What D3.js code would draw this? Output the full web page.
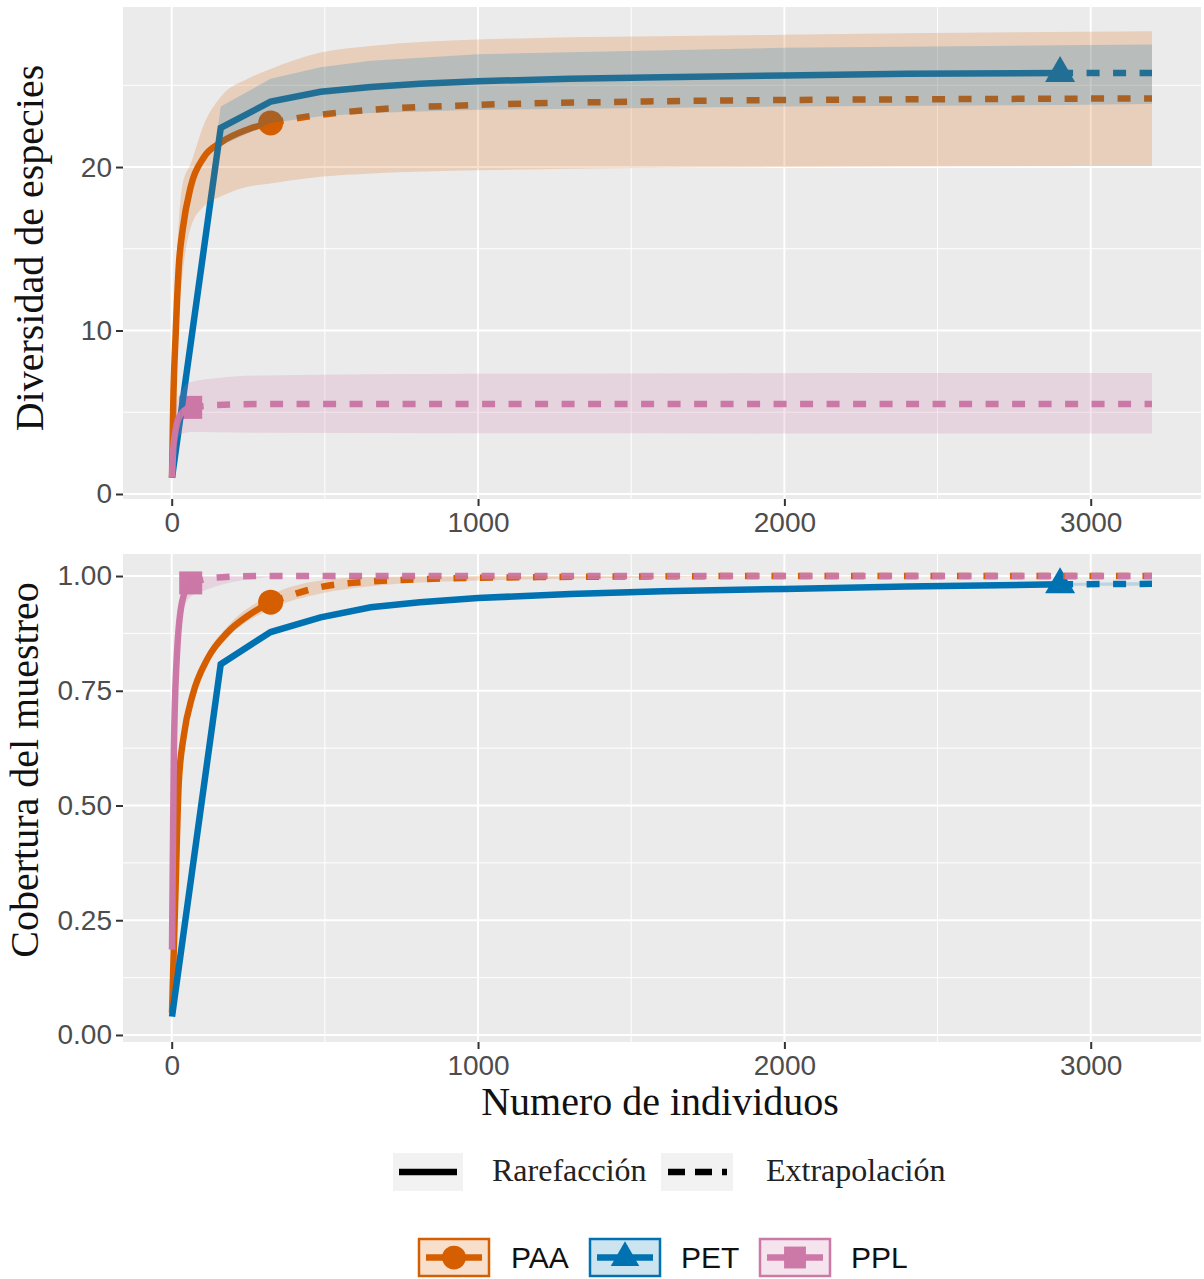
<!DOCTYPE html>
<meta charset="utf-8">
<script src="https://cdnjs.cloudflare.com/ajax/libs/d3/7.8.5/d3.min.js"></script>
<style>
  body { margin: 0; background: #fff; }
</style>
<div id="my_dataviz"></div>
<script>

// assemblages
const groups = ["PAA", "PET", "PPL"];
const colors = ["#D55E00", "#0072B2", "#CC79A7"];
const shapes = ["circle", "triangle", "square"];
const xTicks = [0, 1000, 2000, 3000];

// --- Diversidad de especies ---
// PAA
const paaRareN = [1, 5, 13, 23, 36, 62, 105, 160, 248, 323];
const paaRareS = [1, 5.5, 9.8, 13.9, 16.2, 18.8, 20.6, 21.5, 22.3, 22.7];
const paaExtN = [323, 486, 650, 1000, 1500, 2000, 2500, 3200];
const paaExtS = [22.7, 23.2, 23.5, 23.8, 24.0, 24.1, 24.15, 24.2];
const paaCiN = [1, 13, 36, 62, 105, 160, 248, 323, 486, 650, 1000, 2000, 3200];
const paaLoS = [1, 8, 13.5, 16.3, 17.6, 18.2, 18.8, 19.0, 19.4, 19.6, 19.8, 20.0, 20.06];
const paaHiS = [1, 12, 19, 20.2, 22.6, 24.3, 25.4, 26.0, 27.0, 27.4, 27.8, 28.1, 28.3];
// PET
const petRareN = [1, 160, 323, 486, 650, 810, 1000, 1300, 1600, 2000, 2400, 2900];
const petRareS = [1, 22.4, 24.0, 24.6, 24.9, 25.1, 25.25, 25.4, 25.5, 25.6, 25.7, 25.75];
const petExtN = [2900, 3200];
const petExtS = [25.75, 25.75];
const petCiN = [1, 160, 323, 486, 650, 1000, 2000, 2900, 3200];
const petLoS = [1, 21.3, 22.7, 23.1, 23.3, 23.5, 23.7, 23.8, 23.85];
const petHiS = [1, 23.7, 25.4, 26.1, 26.5, 26.9, 27.3, 27.45, 27.5];
// PPL
const pplRareN = [1, 5, 10, 20, 35, 62];
const pplRareS = [1, 2.7, 3.6, 4.5, 5.0, 5.3];
const pplExtN = [62, 150, 300, 1000, 3200];
const pplExtS = [5.3, 5.45, 5.5, 5.5, 5.5];
const pplCiN = [1, 10, 35, 62, 150, 300, 1000, 3200];
const pplLoS = [1, 2.8, 3.7, 3.8, 3.78, 3.75, 3.72, 3.7];
const pplHiS = [1, 5.0, 6.4, 6.85, 7.1, 7.25, 7.35, 7.4];

// --- Cobertura del muestreo ---
// PAA
const paaCovRareN = [1, 7, 13, 23, 39, 68, 117, 182, 248, 323];
const paaCovRare = [0.048, 0.19, 0.33, 0.55, 0.65, 0.74, 0.82, 0.877, 0.913, 0.943];
const paaCovExtN = [323, 486, 650, 1000, 1500, 2000, 3200];
const paaCovExt = [0.943, 0.976, 0.988, 0.996, 0.999, 1.0, 1.0];
const paaCovCiN = [1, 13, 39, 117, 182, 323, 486, 650, 1000, 2000, 3200];
const paaCovLo = [0.048, 0.32, 0.64, 0.81, 0.865, 0.928, 0.962, 0.978, 0.99, 0.999, 1.0];
const paaCovHi = [0.048, 0.34, 0.66, 0.83, 0.89, 0.958, 0.99, 0.998, 1.0, 1.0, 1.0];
// PET
const petCovRareN = [1, 160, 323, 486, 650, 810, 1000, 1300, 1600, 2000, 2400, 2900];
const petCovRare = [0.04, 0.808, 0.878, 0.91, 0.932, 0.943, 0.952, 0.961, 0.967, 0.972, 0.977, 0.982];
const petCovExtN = [2900, 3200];
const petCovExt = [0.982, 0.983];
const petCovCiN = [1, 160, 323, 486, 650, 1000, 2000, 2900, 3200];
const petCovLo = [0.04, 0.80, 0.872, 0.905, 0.928, 0.948, 0.969, 0.979, 0.979];
const petCovHi = [0.04, 0.816, 0.884, 0.915, 0.936, 0.956, 0.975, 0.985, 0.987];
// PPL
const pplCovRareN = [1, 7, 18, 36, 62];
const pplCovRare = [0.186, 0.62, 0.84, 0.95, 0.985];
const pplCovExtN = [62, 150, 300, 1000, 3200];
const pplCovExt = [0.985, 0.997, 1.0, 1.0, 1.0];
const pplCovCiN = [1, 7, 18, 36, 62, 105, 225, 400, 3200];
const pplCovLo = [0.186, 0.58, 0.8, 0.92, 0.955, 0.968, 0.99, 1.0, 1.0];
const pplCovHi = [0.186, 0.66, 0.88, 0.98, 1.0, 1.0, 1.0, 1.0, 1.0];

// build series for each panel
function zip(a, b) { return a.map((v, i) => [v, b[i]]); }
function zip3(a, b, c) { return a.map((v, i) => [v, b[i], c[i]]); }

const divSeries = [
  { rare: zip(paaRareN, paaRareS), ext: zip(paaExtN, paaExtS), ci: zip3(paaCiN, paaLoS, paaHiS), curve: d3.curveMonotoneX },
  { rare: zip(petRareN, petRareS), ext: zip(petExtN, petExtS), ci: zip3(petCiN, petLoS, petHiS), curve: d3.curveLinear },
  { rare: zip(pplRareN, pplRareS), ext: zip(pplExtN, pplExtS), ci: zip3(pplCiN, pplLoS, pplHiS), curve: d3.curveMonotoneX }
];
const covSeries = [
  { rare: zip(paaCovRareN, paaCovRare), ext: zip(paaCovExtN, paaCovExt), ci: zip3(paaCovCiN, paaCovLo, paaCovHi), curve: d3.curveMonotoneX },
  { rare: zip(petCovRareN, petCovRare), ext: zip(petCovExtN, petCovExt), ci: zip3(petCovCiN, petCovLo, petCovHi), curve: d3.curveLinear },
  { rare: zip(pplCovRareN, pplCovRare), ext: zip(pplCovExtN, pplCovExt), ci: zip3(pplCovCiN, pplCovLo, pplCovHi), curve: d3.curveMonotoneX }
];

const width = 1204, height = 1279;
const left = 123, right = 1201;
const lw = 6.5, dash = "13,13.5";

const svg = d3.select("#my_dataviz")
  .append("svg")
  .attr("width", width)
  .attr("height", height);

const x = d3.scaleLinear().domain([-159, 3360]).range([left, right]);

function marker(g, shape, cx, cy, col, size) {
  const s = size || 1;
  if (shape == "circle") {
    g.append("circle").attr("cx", cx).attr("cy", cy).attr("r", 12.5 * s).attr("fill", col);
  } else if (shape == "triangle") {
    g.append("path")
      .attr("d", "M0," + (-17 * s) + "L" + (15 * s) + "," + (9 * s) + "L" + (-15 * s) + "," + (9 * s) + "Z")
      .attr("transform", "translate(" + cx + "," + cy + ")")
      .attr("fill", col);
  } else {
    g.append("rect").attr("x", cx - 11.5 * s).attr("y", cy - 11.5 * s)
      .attr("width", 23 * s).attr("height", 23 * s).attr("fill", col);
  }
}

function drawPanel(y, top, bottom, yTicks, yMinor, fmt, series, clipId) {
  const g = svg.append("g");
  g.append("rect")
    .attr("x", left).attr("y", top)
    .attr("width", right - left).attr("height", bottom - top)
    .attr("fill", "#EBEBEB");

  g.append("clipPath").attr("id", clipId)
    .append("rect")
    .attr("x", left).attr("y", top)
    .attr("width", right - left).attr("height", bottom - top);

  // grid
  const xMinor = [500, 1500, 2500];
  g.selectAll(".hminor").data(yMinor).join("line")
    .attr("x1", left).attr("x2", right)
    .attr("y1", d => y(d)).attr("y2", d => y(d))
    .attr("stroke", "#fff").attr("stroke-width", 1);
  g.selectAll(".vminor").data(xMinor).join("line")
    .attr("y1", top).attr("y2", bottom)
    .attr("x1", d => x(d)).attr("x2", d => x(d))
    .attr("stroke", "#fff").attr("stroke-width", 1);
  g.selectAll(".hmajor").data(yTicks).join("line")
    .attr("x1", left).attr("x2", right)
    .attr("y1", d => y(d)).attr("y2", d => y(d))
    .attr("stroke", "#fff").attr("stroke-width", 2);
  g.selectAll(".vmajor").data(xTicks).join("line")
    .attr("y1", top).attr("y2", bottom)
    .attr("x1", d => x(d)).attr("x2", d => x(d))
    .attr("stroke", "#fff").attr("stroke-width", 2);

  const plot = g.append("g").attr("clip-path", "url(#" + clipId + ")");

  // points first, then lines, then ribbons (same order as ggiNEXT)
  series.forEach((s, i) => {
    const ref = s.rare[s.rare.length - 1];
    marker(plot, shapes[i], x(ref[0]), y(ref[1]), colors[i]);
  });
  series.forEach((s, i) => {
    const line = d3.line().x(d => x(d[0])).y(d => y(d[1])).curve(s.curve);
    plot.append("path").datum(s.rare)
      .attr("d", line).attr("fill", "none")
      .attr("stroke", colors[i]).attr("stroke-width", lw);
    plot.append("path").datum(s.ext)
      .attr("d", line).attr("fill", "none")
      .attr("stroke", colors[i]).attr("stroke-width", lw)
      .attr("stroke-dasharray", dash);
  });
  series.forEach((s, i) => {
    const area = d3.area().x(d => x(d[0])).y0(d => y(d[1])).y1(d => y(d[2])).curve(s.curve);
    plot.append("path").datum(s.ci)
      .attr("d", area)
      .attr("fill", colors[i]).attr("fill-opacity", 0.2);
  });

  // axes
  const ya = g.append("g")
    .attr("transform", "translate(" + left + ",0)")
    .call(d3.axisLeft(y).tickValues(yTicks).tickFormat(fmt).tickSize(7).tickPadding(4));
  const xa = g.append("g")
    .attr("transform", "translate(0," + bottom + ")")
    .call(d3.axisBottom(x).tickValues(xTicks).tickFormat(d3.format("d")).tickSize(7).tickPadding(6));
  [ya, xa].forEach(a => {
    a.select(".domain").remove();
    a.selectAll(".tick line").attr("stroke", "#333").attr("stroke-width", 2);
    a.selectAll(".tick text")
      .attr("fill", "#4D4D4D")
      .style("font-family", "'Liberation Sans', Arial, sans-serif")
      .style("font-size", "28px");
  });
}

const yTop = d3.scaleLinear().domain([-0.306, 29.79]).range([499, 7]);
const yBot = d3.scaleLinear().domain([-0.0153, 1.048]).range([1042, 554]);

drawPanel(yTop, 7, 499, [0, 10, 20], [5, 15, 25], d3.format("d"), divSeries, "clipTop");
drawPanel(yBot, 554, 1042, [0, 0.25, 0.5, 0.75, 1], [0.125, 0.375, 0.625, 0.875], d3.format(".2f"), covSeries, "clipBot");

// axis titles
const serif = "'Liberation Serif', 'Times New Roman', serif";
svg.append("text")
  .attr("transform", "translate(43,248) rotate(-90)")
  .attr("text-anchor", "middle")
  .style("font-family", serif).style("font-size", "40px").attr("fill", "#111")
  .text("Diversidad de especies");
svg.append("text")
  .attr("transform", "translate(38,770) rotate(-90)")
  .attr("text-anchor", "middle")
  .style("font-family", serif).style("font-size", "40px").attr("fill", "#111")
  .text("Cobertura del muestreo");
svg.append("text")
  .attr("x", 660).attr("y", 1115)
  .attr("text-anchor", "middle")
  .style("font-family", serif).style("font-size", "40px").attr("fill", "#111")
  .text("Numero de individuos");

// legend: line type
const lt = svg.append("g");
lt.append("rect").attr("x", 393).attr("y", 1153).attr("width", 70).attr("height", 38).attr("fill", "#F2F2F2");
lt.append("line").attr("x1", 399).attr("x2", 457).attr("y1", 1172).attr("y2", 1172)
  .attr("stroke", "#000").attr("stroke-width", lw);
lt.append("text").attr("x", 492).attr("y", 1181)
  .style("font-family", serif).style("font-size", "32px").attr("fill", "#222")
  .text("Rarefacción");
lt.append("rect").attr("x", 661).attr("y", 1153).attr("width", 72).attr("height", 38).attr("fill", "#F2F2F2");
lt.append("line").attr("x1", 668).attr("x2", 727).attr("y1", 1172).attr("y2", 1172)
  .attr("stroke", "#000").attr("stroke-width", lw).attr("stroke-dasharray", "17,10");
lt.append("text").attr("x", 766).attr("y", 1181)
  .style("font-family", serif).style("font-size", "32px").attr("fill", "#222")
  .text("Extrapolación");

// legend: assemblages
const keyX = [419, 590, 760];
const labX = [511, 681, 851];
const lg = svg.append("g");
groups.forEach((gname, i) => {
  lg.append("rect").attr("x", keyX[i]).attr("y", 1239).attr("width", 70).attr("height", 37)
    .attr("fill", colors[i]).attr("fill-opacity", 0.2)
    .attr("stroke", colors[i]).attr("stroke-width", 2.5);
  lg.append("line").attr("x1", keyX[i] + 7).attr("x2", keyX[i] + 63)
    .attr("y1", 1257.5).attr("y2", 1257.5)
    .attr("stroke", colors[i]).attr("stroke-width", lw);
  marker(lg, shapes[i], keyX[i] + 35, 1257.5, colors[i], 0.95);
  lg.append("text").attr("x", labX[i]).attr("y", 1268)
    .style("font-family", "'Liberation Sans', Arial, sans-serif").style("font-size", "30px")
    .attr("fill", "#111")
    .text(gname);
});

</script>
